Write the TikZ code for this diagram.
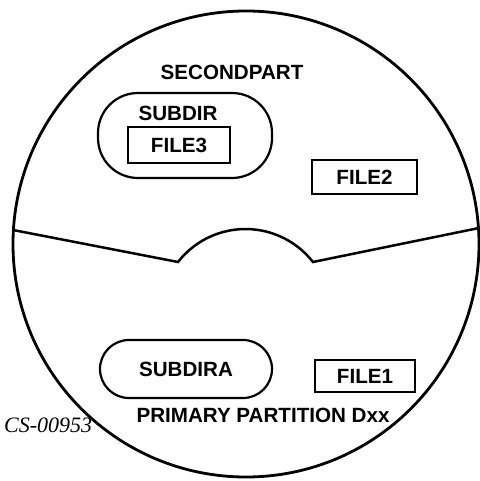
\documentclass[tikz,border=0pt]{standalone}
\usepackage{fontspec}
\newfontfamily\lblfont{Liberation Sans}[BoldFont={Liberation Sans Bold}]
\newfontfamily\tagfont{Liberation Serif}
\begin{document}
\begin{tikzpicture}[x=1pt, y=-1pt,
    lbl/.style={font=\lblfont\bfseries\fontsize{20.6}{20.6}\selectfont, inner sep=0pt},
    filebox/.style={lbl, draw, line width=2.5pt, inner sep=0pt},
    dirbox/.style={draw, line width=2.2pt, inner sep=0pt},
  ]
  \useasboundingbox (0,0) rectangle (479,481);

  % Disk outline and partition boundary.
  \draw[line width=2.8pt] (246,244) circle[radius=233];
  \coordinate (cutL) at (13,230);
  \coordinate (cutR) at (479,228);
  \draw[line width=2.5pt] (cutL) -- (178,262) arc[start angle=217.9, end angle=322.1, radius=85.5] -- (cutR);

  % Upper partition: SECONDPART.
  \node[lbl] (second) at (232,72) {SECONDPART};
  \node[dirbox, minimum width=174pt, minimum height=85pt, rounded corners=40pt] (subdir) at (185,135.5) {};
  \node[lbl] (subdirlbl) at (178,113) {SUBDIR};
  \node[filebox, minimum width=102pt, minimum height=36pt] (file3) at (179,145) {FILE3};
  \node[filebox, minimum width=105pt, minimum height=34pt] (file2) at (364.5,177) {FILE2};

  % Lower partition: primary.
  \node[dirbox, lbl, minimum width=172pt, minimum height=58pt, rounded corners=29pt] (subdira) at (186,369) {SUBDIRA};
  \node[filebox, minimum width=100pt, minimum height=32pt] (file1) at (365,376) {FILE1};
  \node[lbl] (primary) at (263,415) {PRIMARY PARTITION Dxx};

  % Figure tag.
  \node[anchor=west, inner sep=0pt, font=\tagfont\itshape\fontsize{22}{22}\selectfont] (tag) at (4,425) {CS-00953};
\end{tikzpicture}
\end{document}
